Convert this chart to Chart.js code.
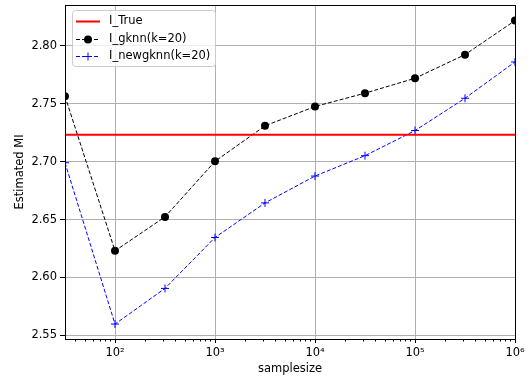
<!DOCTYPE html>
<html>
<head>
<meta charset="utf-8">
<script src="https://cdn.jsdelivr.net/npm/chart.js"></script>
<style>
  html, body { margin: 0; padding: 0; background: #fff; }
  #chart { display: block; }
</style>
</head>
<body>
<canvas id="chart" width="531" height="382"></canvas>
<script>
// sample sizes (10^1.5 ... 10^6)
const sampleSizes = [31.62, 100, 316.2, 1000, 3162, 10000, 31623, 100000, 316228, 1000000];
const gknnValues = [2.7566, 2.6230, 2.6523, 2.7003, 2.7310, 2.7477, 2.7592, 2.7721, 2.7925, 2.8219];
const newGknnValues = [2.6991, 2.5597, 2.5905, 2.6345, 2.6644, 2.6876, 2.7052, 2.7269, 2.7548, 2.7862];
const trueValue = 2.7232;
const xMajorTicks = [100, 1000, 10000, 100000, 1000000];
const xTickLabels = ['10²', '10³', '10⁴', '10⁵', '10⁶'];
const yTicks = [2.55, 2.60, 2.65, 2.70, 2.75, 2.80];

const X_MIN = 31.62, X_MAX = 1000000;
const Y_MIN = 2.5468, Y_MAX = 2.8354;

// minor ticks between decades, like matplotlib
const xMinorTicks = [];
for (let d = 10; d < X_MAX; d *= 10) {
  for (let m = 2; m <= 9; m++) {
    const v = d * m;
    if (v >= X_MIN && v <= X_MAX) xMinorTicks.push(v);
  }
}

Chart.defaults.font.family = 'DejaVu Sans';
Chart.defaults.font.size = 11.5;
Chart.defaults.color = '#000';

const toPoints = vals => sampleSizes.map((x, i) => ({ x, y: vals[i] }));

// Axes frame + minor ticks
const framePlugin = {
  id: 'frame',
  afterDraw(chart) {
    const { ctx, chartArea: a, scales } = chart;
    ctx.save();
    ctx.strokeStyle = '#000';
    ctx.lineWidth = 1;
    ctx.beginPath();
    xMinorTicks.forEach(v => {
      const px = Math.round(scales.x.getPixelForValue(v)) + 0.5;
      ctx.moveTo(px, a.bottom);
      ctx.lineTo(px, a.bottom + 2.5);
    });
    ctx.stroke();
    ctx.strokeRect(Math.round(a.left) + 0.5, Math.round(a.top) + 0.5,
      Math.round(a.right - a.left), Math.round(a.bottom - a.top));
    ctx.restore();
  }
};

// matplotlib-like legend box
const legendPlugin = {
  id: 'mplLegend',
  afterDraw(chart) {
    const { ctx } = chart;
    const box = { x: 72, y: 10, w: 143, h: 56 };
    ctx.save();
    ctx.fillStyle = 'rgba(255,255,255,0.8)';
    ctx.strokeStyle = '#cccccc';
    ctx.lineWidth = 1;
    ctx.beginPath();
    ctx.roundRect(box.x + 0.5, box.y + 0.5, box.w, box.h, 3);
    ctx.fill();
    ctx.stroke();

    const rows = [21, 38.5, 55.5];
    chart.data.datasets.forEach((ds, i) => {
      const y = Math.round(rows[i]) + 0.5;
      ctx.strokeStyle = ds.borderColor;
      ctx.lineWidth = ds.borderWidth;
      ctx.setLineDash(ds.borderDash || []);
      ctx.beginPath();
      ctx.moveTo(76, y);
      ctx.lineTo(100, y);
      ctx.stroke();
      ctx.setLineDash([]);
      if (ds.pointStyle === 'circle' && ds.pointRadius > 0) {
        ctx.fillStyle = ds.pointBackgroundColor;
        ctx.beginPath();
        ctx.arc(88, y, ds.pointRadius, 0, Math.PI * 2);
        ctx.fill();
      } else if (ds.pointStyle === 'cross' && ds.pointRadius > 0) {
        ctx.strokeStyle = ds.pointBorderColor;
        ctx.lineWidth = 1;
        ctx.beginPath();
        ctx.moveTo(88 - ds.pointRadius, y);
        ctx.lineTo(88 + ds.pointRadius, y);
        ctx.moveTo(88, y - ds.pointRadius);
        ctx.lineTo(88, y + ds.pointRadius);
        ctx.stroke();
      }
      ctx.fillStyle = '#000';
      ctx.font = '11.5px "DejaVu Sans"';
      ctx.textBaseline = 'middle';
      ctx.fillText(ds.label, 109, y);
    });
    ctx.restore();
  }
};

new Chart(document.getElementById('chart'), {
  type: 'line',
  data: {
    datasets: [
      {
        label: 'I_True',
        data: toPoints(sampleSizes.map(() => trueValue)),
        borderColor: '#ff0000',
        borderWidth: 2,
        pointRadius: 0,
        pointStyle: false
      },
      {
        label: 'I_gknn(k=20)',
        data: toPoints(gknnValues),
        borderColor: '#000000',
        borderWidth: 1,
        borderDash: [4, 2],
        pointStyle: 'circle',
        pointRadius: 4,
        pointBackgroundColor: '#000000',
        pointBorderColor: '#000000',
        pointBorderWidth: 0
      },
      {
        label: 'I_newgknn(k=20)',
        data: toPoints(newGknnValues),
        borderColor: '#0000ff',
        borderWidth: 1,
        borderDash: [4, 2],
        pointStyle: 'cross',
        pointRadius: 4,
        pointBackgroundColor: '#0000ff',
        pointBorderColor: '#0000ff',
        pointBorderWidth: 1
      }
    ]
  },
  options: {
    responsive: false,
    animation: false,
    clip: 0,
    layout: { padding: { top: 5, right: 16, left: 0, bottom: 0 } },
    plugins: {
      legend: { display: false },
      tooltip: { enabled: false }
    },
    elements: { line: { tension: 0 } },
    scales: {
      x: {
        type: 'logarithmic',
        min: X_MIN,
        max: X_MAX,
        afterBuildTicks: scale => {
          scale.ticks = xMajorTicks.map(v => ({ value: v, major: true }));
        },
        afterFit: scale => {
          scale.height = 43;
          scale.paddingLeft = 0;
          scale.paddingRight = 0;
        },
        ticks: {
          autoSkip: false,
          maxRotation: 0,
          padding: 3,
          callback: value => {
            const i = xMajorTicks.indexOf(value);
            return i >= 0 ? xTickLabels[i] : '';
          }
        },
        grid: { color: '#b0b0b0', lineWidth: 1, tickColor: '#000', tickLength: 4 },
        border: { display: false },
        title: { display: true, text: 'samplesize', padding: { top: 0, bottom: 6 } }
      },
      y: {
        type: 'linear',
        min: Y_MIN,
        max: Y_MAX,
        afterBuildTicks: scale => {
          scale.ticks = yTicks.map(v => ({ value: v }));
        },
        afterFit: scale => {
          scale.width = 65;
          scale.paddingTop = 0;
          scale.paddingBottom = 0;
        },
        ticks: {
          padding: 3,
          callback: value => Number(value).toFixed(2)
        },
        grid: { color: '#b0b0b0', lineWidth: 1, tickColor: '#000', tickLength: 5 },
        border: { display: false },
        title: { display: true, text: 'Estimated MI', padding: { top: 13, bottom: 0 } }
      }
    }
  },
  plugins: [framePlugin, legendPlugin]
});
</script>
</body>
</html>
